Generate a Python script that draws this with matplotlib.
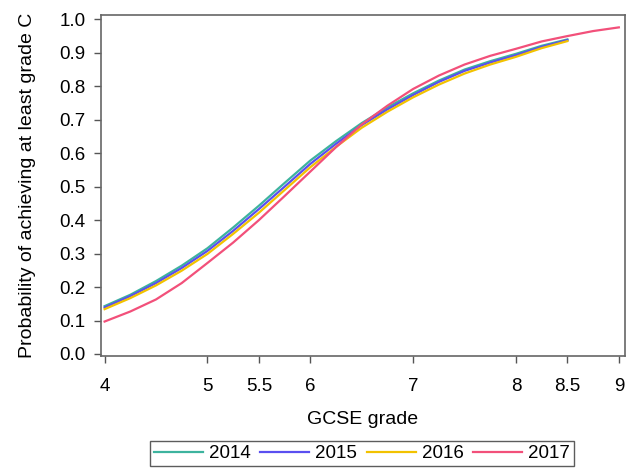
import matplotlib
matplotlib.use("Agg")
import matplotlib.pyplot as plt

plt.rcParams['font.family'] = ['Liberation Sans', 'DejaVu Sans']

grades = [4.0, 4.25, 4.5, 4.75, 5.0, 5.25, 5.5, 5.75, 6.0, 6.25, 6.5, 6.75,
          7.0, 7.25, 7.5, 7.75, 8.0, 8.25, 8.5, 8.75, 9.0]
p2014 = [0.143, 0.177, 0.218, 0.264, 0.316, 0.378, 0.443, 0.511, 0.578, 0.636,
         0.690, 0.737, 0.779, 0.817, 0.850, 0.875, 0.897, 0.921, 0.940]
p2015 = [0.139, 0.173, 0.212, 0.257, 0.308, 0.368, 0.433, 0.500, 0.568, 0.628,
         0.684, 0.731, 0.774, 0.813, 0.846, 0.871, 0.893, 0.918, 0.938]
p2016 = [0.134, 0.167, 0.205, 0.249, 0.299, 0.359, 0.422, 0.490, 0.558, 0.619,
         0.676, 0.724, 0.767, 0.805, 0.838, 0.865, 0.888, 0.914, 0.935]
p2017 = [0.097, 0.127, 0.163, 0.212, 0.272, 0.333, 0.400, 0.472, 0.545, 0.618,
         0.686, 0.742, 0.792, 0.832, 0.865, 0.891, 0.912, 0.934, 0.950, 0.965, 0.976]

series = [("2014", p2014, "#3db39e"), ("2015", p2015, "#5a4ff0"),
          ("2016", p2016, "#f2c200"), ("2017", p2017, "#f2507a")]

xticks = [4, 5, 5.5, 6, 7, 8, 8.5, 9]
xticklabels = ["4", "5", "5.5", "6", "7", "8", "8.5", "9"]
yticks = [0.0, 0.1, 0.2, 0.3, 0.4, 0.5, 0.6, 0.7, 0.8, 0.9, 1.0]

fig = plt.figure(figsize=(6.38, 4.70), dpi=100)
ax = fig.add_axes([101/638, 1 - 356/470, (625-101)/638, (356-15)/470])

for name, vals, col in series:
    ax.plot(grades[:len(vals)], vals, color=col, lw=1.6, label=name)

ax.set_xlim(3.965, 9.06)
ax.set_ylim(-0.006, 1.013)
ax.set_xticks(xticks)
ax.set_xticklabels(xticklabels)
ax.set_yticks(yticks)
ax.set_yticklabels([f"{v:.1f}" for v in yticks])
ax.tick_params(direction='out', length=5, width=1, color='#555555', labelsize=13.5)
ax.tick_params(axis='x', pad=10.5)
ax.tick_params(axis='y', pad=6)
for s in ax.spines.values():
    s.set_color('#666666')
    s.set_linewidth(1.2)

ax.set_xlabel("GCSE grade", fontsize=14, labelpad=12)
ax.set_ylabel("Probability of achieving at least grade C", fontsize=14, labelpad=17)

leg = fig.legend(loc='center', bbox_to_anchor=(362/638, 1 - 453.5/470), ncol=4,
                 fontsize=13.5, handlelength=2.6, handletextpad=0.32,
                 columnspacing=0.53, frameon=True, fancybox=False,
                 borderpad=0.2, borderaxespad=0)
leg.get_frame().set_edgecolor('#333333')
leg.get_frame().set_linewidth(1.0)

fig.savefig("out.png", dpi=100)
